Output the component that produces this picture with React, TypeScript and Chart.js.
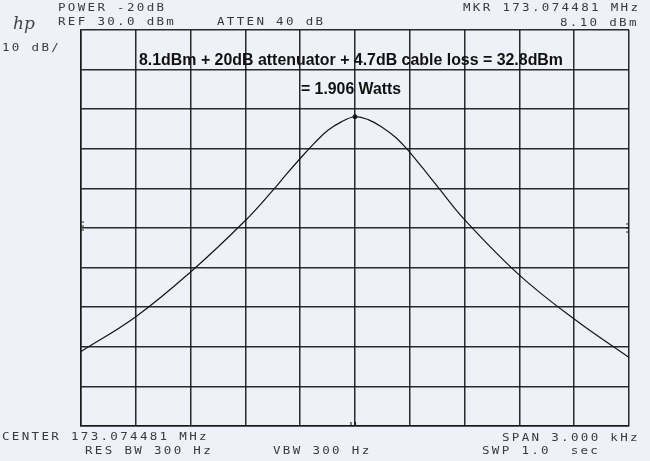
import React, { useEffect, useRef } from "react";
import { Chart, registerables } from "chart.js";

Chart.register(...registerables);

// Frequency offset from center (Hz) and measured level (dBm)
const freqOffsets = [
  -1500, -1200, -900, -600, -450, -375, -300, -225, -150, -75, 0,
  75, 150, 225, 300, 375, 450, 600, 900, 1200, 1500,
];
const levels = [
  -51.2, -42.4, -31.1, -18.1, -10.5, -6.4, -2.45, 1.3, 4.6, 6.8, 8.1,
  7.3, 5.4, 2.8, -0.9, -5.1, -9.4, -17.9, -31.9, -43.0, -52.7,
];
const markerFreq = [0];
const markerLevel = [8.1];

const xMin = -1500;
const xMax = 1500;
const xStep = 300;
const yMin = -70;
const yMax = 30;
const yStep = 10;
const refLineLevel = -20;

const headerTexts = [
  { t: "POWER -20dB", x: 58, y: 10.5 },
  { t: "REF 30.0 dBm", x: 58, y: 24.5 },
  { t: "ATTEN 40 dB", x: 217, y: 24.5 },
  { t: "10 dB/", x: 2, y: 51 },
  { t: "MKR 173.074481 MHz", x: 463, y: 10.5 },
  { t: "8.10 dBm", x: 560, y: 26 },
  { t: "CENTER 173.074481 MHz", x: 2, y: 440 },
  { t: "SPAN 3.000 kHz", x: 502, y: 441 },
  { t: "RES BW 300 Hz", x: 85, y: 453.5 },
  { t: "VBW 300 Hz", x: 273, y: 453.5 },
  { t: "SWP 1.0  sec", x: 482, y: 453.5 },
];

const noteLine1 = "8.1dBm + 20dB attenuator + 4.7dB cable loss = 32.8dBm";
const noteLine2 = "= 1.906 Watts";

const BG = "#eff1f8";
const GRID = "rgba(25,25,25,0.92)";

const decorPlugin = {
  id: "decor",
  beforeDraw(chart: any) {
    const ctx = chart.ctx;
    ctx.save();
    ctx.fillStyle = BG;
    ctx.fillRect(0, 0, chart.width, chart.height);
    ctx.restore();
  },
  afterDraw(chart: any) {
    const ctx = chart.ctx;
    ctx.save();
    ctx.fillStyle = "#3a3a3a";
    ctx.font = "10px 'DejaVu Sans Mono'";
    ctx.textBaseline = "alphabetic";
    for (const h of headerTexts) {
      ctx.save();
      ctx.translate(h.x, h.y);
      ctx.scale(1.25, 1);
      (ctx as any).letterSpacing = "1.86px";
      ctx.fillText(h.t, 0, 0);
      ctx.restore();
    }
    // hp logo
    ctx.save();
    ctx.font = "italic 17px 'DejaVu Serif'";
    ctx.fillStyle = "#444";
    ctx.fillText("hp", 13, 29);
    ctx.restore();

    // annotation
    ctx.fillStyle = "#111";
    ctx.font = "bold 17px 'Liberation Sans'";
    ctx.fillText(noteLine1, 139, 65, 424);
    ctx.fillText(noteLine2, 301, 94, 100);

    const xs = chart.scales.x;
    const ys = chart.scales.y;
    ctx.strokeStyle = GRID;
    ctx.lineWidth = 1.2;
    ctx.beginPath();
    // center marks at bottom
    const cx = xs.getPixelForValue(0);
    ctx.moveTo(cx - 4, ys.bottom);
    ctx.lineTo(cx - 4, ys.bottom - 4);
    ctx.moveTo(cx + 0.5, ys.bottom);
    ctx.lineTo(cx + 0.5, ys.bottom - 4);
    // reference-level marks on both edges
    const ry = ys.getPixelForValue(refLineLevel);
    for (const dy of [-6, -2, 2]) {
      ctx.moveTo(xs.left, ry + dy);
      ctx.lineTo(xs.left + 3, ry + dy);
      ctx.moveTo(xs.right, ry + dy + 2);
      ctx.lineTo(xs.right - 3, ry + dy + 2);
    }
    ctx.stroke();
    ctx.restore();
  },
};

export default function App() {
  const ref = useRef<HTMLCanvasElement | null>(null);
  useEffect(() => {
    if (!ref.current) return;
    const chart = new Chart(ref.current, {
      type: "line",
      data: {
        datasets: [
          {
            label: "trace",
            data: freqOffsets.map((f, i) => ({ x: f, y: levels[i] })),
            borderColor: "#151515",
            borderWidth: 1.2,
            pointRadius: 0,
            tension: 0.4,
            fill: false,
          },
          {
            label: "marker",
            data: markerFreq.map((f, i) => ({ x: f, y: markerLevel[i] })),
            borderColor: "#111",
            backgroundColor: "#111",
            pointRadius: 2,
            showLine: false,
          },
        ],
      },
      options: {
        responsive: false,
        animation: false,
        events: [],
        layout: { padding: { left: 81, right: 21, top: 30, bottom: 35 } },
        plugins: {
          legend: { display: false },
          tooltip: { enabled: false },
          title: { display: false },
        },
        scales: {
          x: {
            type: "linear",
            min: xMin,
            max: xMax,
            ticks: { display: false, stepSize: xStep },
            grid: { color: GRID, lineWidth: 1.5, drawTicks: false },
            border: { display: true, color: GRID, width: 1.5 },
          },
          y: {
            type: "linear",
            min: yMin,
            max: yMax,
            ticks: { display: false, stepSize: yStep },
            grid: { color: GRID, lineWidth: 1.5, drawTicks: false },
            border: { display: true, color: GRID, width: 1.5 },
          },
        },
      },
      plugins: [decorPlugin],
    });
    return () => chart.destroy();
  }, []);
  return (
    <div style={{ position: "fixed", left: 0, top: 0, width: 650, height: 461, background: BG }}>
      <canvas ref={ref} width={650} height={461} style={{ display: "block" }} />
    </div>
  );
}
